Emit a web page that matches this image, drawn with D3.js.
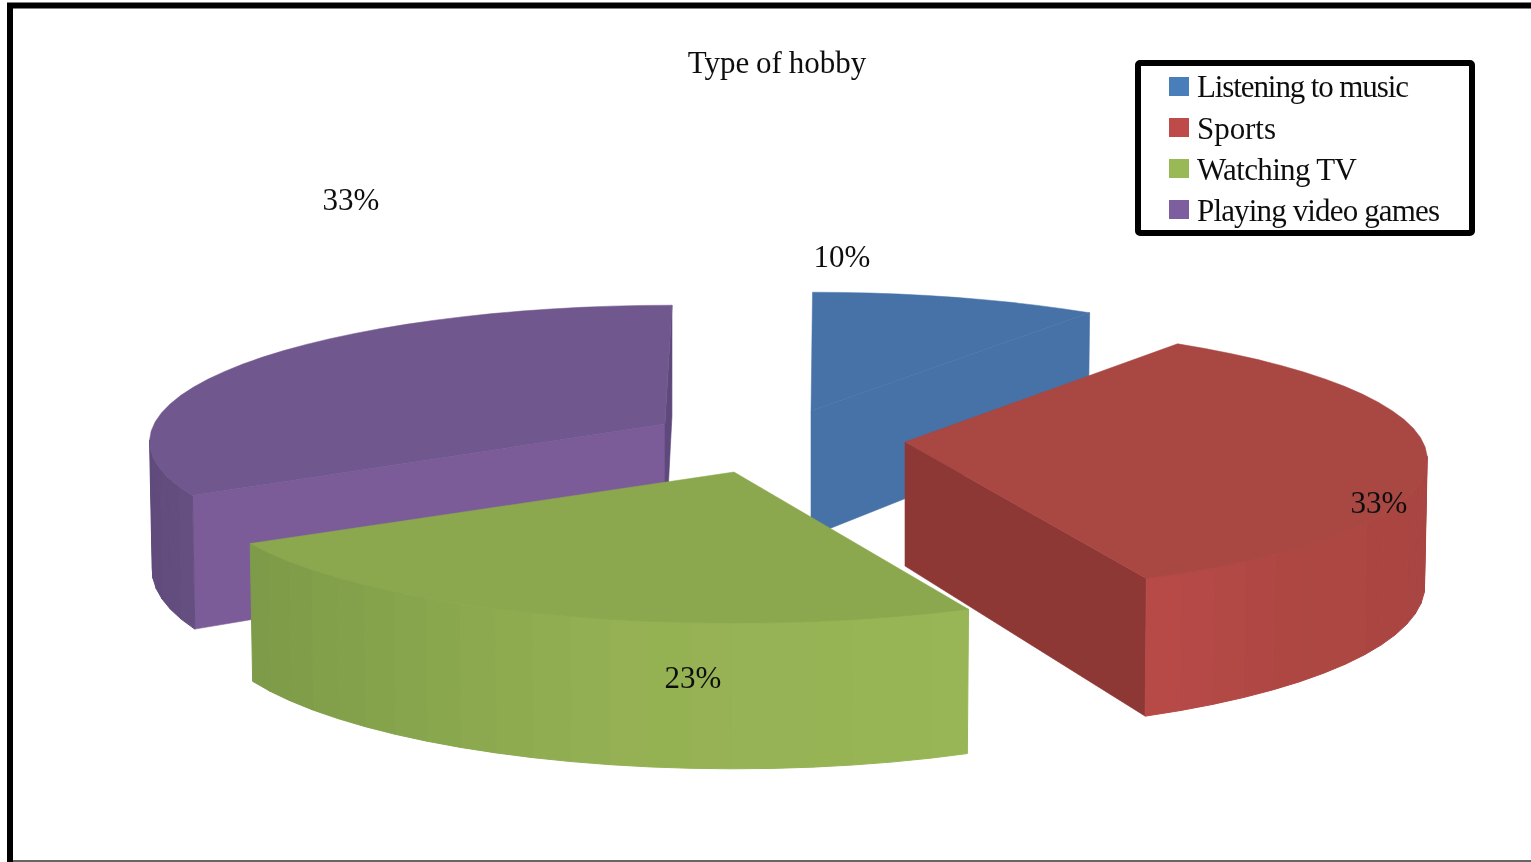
<!DOCTYPE html>
<html><head><meta charset="utf-8">
<script src="https://cdnjs.cloudflare.com/ajax/libs/d3/7.8.5/d3.min.js"></script>
<style>html,body{margin:0;padding:0;background:#fff;overflow:hidden}svg{display:block}text{font-family:"Liberation Serif",serif;fill:#111}</style>
</head><body><script>
const title = "Type of hobby";
const categories = ["Listening to music","Sports","Watching TV","Playing video games"];
const values = [10,33,23,33];
const labels = ["10%","33%","23%","33%"];

// layout + style, kept apart from the data
const W=1531,H=862, RY=135, K=0.12;
const centers=[
  {x:811,y:411,lean:-1.5,rx:518,depth:125,trim:0},
  {x:905,y:442,lean:6,rx:518,depth:124,trim:0.0105},
  {x:734,y:472,lean:0,rx:527,depth:130,trim:0},
  {x:665,y:424,lean:-7,rx:511,depth:126,trim:0}];
const swatch=["#4a7ebb","#be4b48","#98b954","#7d5fa0"];
const topFill=["#4672a8","#a94643","#8ba84f","#70588f"];
const startFill=["#4672a8","#8e3836","#7d9a48","#7c5c98"];
const endFill=["#4672a8","#8e3836","#7d9a48","#5e4a7c"];
const sideX=[[811,1100],[1147,1290,1425],[250,420,620,967],[149,195]];
const sideC=[["#4672a8","#4672a8"],["#b84b47","#ae4643","#a94542"],["#7d9a48","#88a64d","#95b153","#98b655"],["#5f4b7b","#675183"]];
const labelPos=[[842,267],[1379,513],[693,688],[351,210]];
const legendY=[97,139,180,221];
const legendLen=[212,79,160,243];
const swatchY=[77,118,159,200];

const svg=d3.select("body").append("svg").attr("width",W).attr("height",H);
svg.append("defs").append("filter").attr("id","soft").attr("x",0).attr("y",0).attr("width","100%").attr("height","100%")
  .append("feGaussianBlur").attr("stdDeviation",0.45);
const root=svg.append("g").attr("filter","url(#soft)");
root.append("rect").attr("width",W).attr("height",H).attr("fill","#fff");

const arcs=d3.pie().sort(null)(values);
const line=d3.line();
const TAU=2*Math.PI;

function pt(c,a,r,bottom){
  const X=r*Math.sin(a),Y=-r*Math.cos(a),s=1+K*Y;
  const x=c.x+c.rx*X*s+c.lean*Y, y=c.y+RY*Y*s;
  if(!bottom) return [x,y];
  return [c.x+(x-c.x)*0.995, y+c.depth*s];
}
const order=[3,0,1,2];
const g=root.append("g");
order.forEach(i=>{
  const d=arcs[i],c=centers[i];
  const a0=d.startAngle,a1=d.endAngle-c.trim;
  const n=Math.ceil((a1-a0)/(TAU/90));
  const col=d3.scaleLinear().domain(sideX[i]).range(sideC[i]).clamp(true);
  const ang=d3.range(n+1).map(j=>a0+(a1-a0)*j/n);
  const sl=g.append("g");
  const face=(a,fill,sign)=>{
    const poly=[pt(c,a,0),pt(c,a,1),pt(c,a,1,true),pt(c,a,0,true)];
    if(sign*d3.polygonArea(poly)>0)
      sl.append("path").attr("d",line(poly)+"Z").attr("fill",fill).attr("stroke",fill).attr("stroke-width",0.6);
  };
  face(a0,startFill[i],1);
  face(a1,endFill[i],-1);
  d3.pairs(ang).forEach(([p,q])=>{
    const poly=[pt(c,p,1),pt(c,q,1),pt(c,q,1,true),pt(c,p,1,true)];
    if(d3.polygonArea(poly)>0){
      const f=col((poly[0][0]+poly[1][0])/2);
      sl.append("path").attr("d",line(poly)+"Z").attr("fill",f).attr("stroke",f).attr("stroke-width",1);
    }
  });
  const topPts=[pt(c,a0,0)].concat(ang.map(a=>pt(c,a,1)));
  sl.append("path").attr("d",line(topPts)+"Z").attr("fill",topFill[i]).attr("stroke",topFill[i]).attr("stroke-width",0.5);
});

labels.forEach((t,i)=>{
  root.append("text").attr("x",labelPos[i][0]).attr("y",labelPos[i][1]).attr("text-anchor","middle")
    .attr("font-size",31).text(t);
});
root.append("text").attr("x",777).attr("y",73).attr("text-anchor","middle").attr("font-size",31)
  .attr("word-spacing",-1).text(title);

// legend
root.append("rect").attr("x",1138).attr("y",63).attr("width",334).attr("height",170).attr("rx",2)
  .attr("fill","#fff").attr("stroke","#000").attr("stroke-width",6);
const leg=root.selectAll("g.leg").data(categories).join("g").attr("class","leg");
leg.append("rect").attr("x",1169).attr("y",(d,i)=>swatchY[i]).attr("width",20).attr("height",19).attr("fill",(d,i)=>swatch[i]);
leg.append("text").attr("x",1197).attr("y",(d,i)=>legendY[i]).attr("font-size",31)
  .attr("textLength",(d,i)=>legendLen[i]).attr("lengthAdjust","spacing").text(d=>d);

// frame
root.append("path").attr("d","M10,862V5.5H1531").attr("fill","none").attr("stroke","#000").attr("stroke-width",6);
root.append("path").attr("d","M13,861H1531").attr("fill","none").attr("stroke","#666").attr("stroke-width",2);
</script></body></html>
